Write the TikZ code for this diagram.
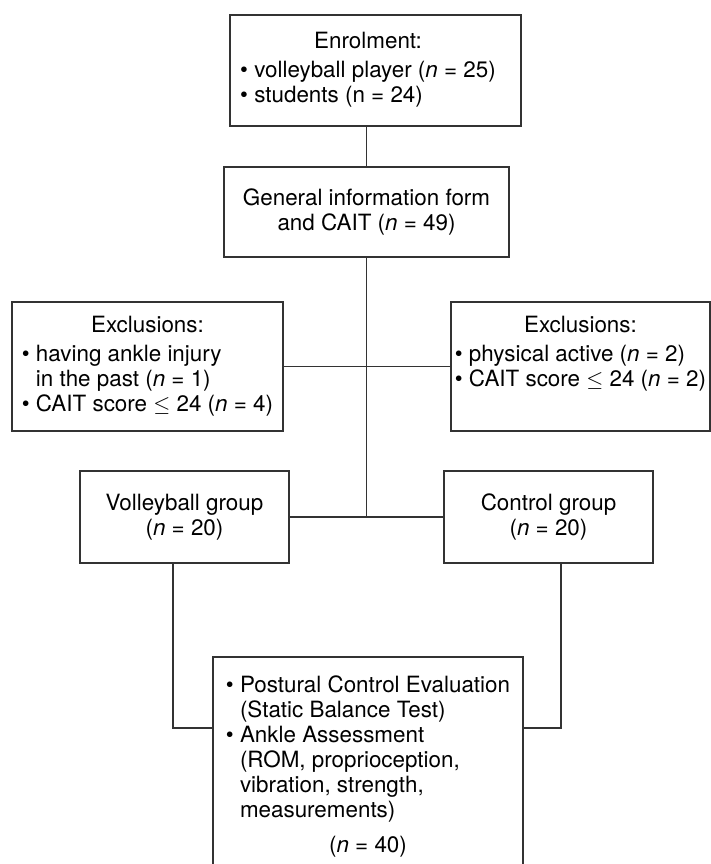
\documentclass[tikz,border=0pt]{standalone}
\usepackage{fontspec}
\setmainfont{TeX Gyre Heros}

\tikzset{
  box/.style={draw=black!80, line width=0.8pt, inner sep=0pt, align=center},
  boxsize/.style 2 args={minimum width=#1*0.5pt, minimum height=#2*0.5pt},
  link/.style={draw=black!80, line width=0.8pt},
}
\newcommand{\nn}{\textit{n}}

\begin{document}
\begin{tikzpicture}[x=0.5pt, y=-0.5pt, font=\fontsize{11.2}{12.5}\selectfont]
        % Page frame
        \clip (0,0) rectangle (711,864);

        % Enrolment and screening
        \node[box, boxsize={291}{111}] (enrol) at (375.5,70.5) {\hspace*{-7.5pt}\begin{tabular}{@{}l@{~}l@{}}
            \multicolumn{2}{@{}c@{}}{Enrolment:}\\[2pt]
            \textbullet & volleyball player (\nn{} = 25)\\
            \textbullet & students (n = 24)
          \end{tabular}};
        \node[box, boxsize={285}{90}] (general) at (366.5,212) {General information form\\and CAIT (\nn{} = 49)};

        % Exclusions on both sides
        \node[box, boxsize={271}{129}] (exclL) at (147.5,366.5) {\begin{tabular}{@{}l@{~}l@{}}
            \multicolumn{2}{@{}c@{}}{Exclusions:}\\[2pt]
            \textbullet & having ankle injury\\
                        & in the past (\nn{} = 1)\\
            \textbullet & CAIT score $\leq$ 24 (\nn{} = 4)
          \end{tabular}};
        \node[box, boxsize={259}{129}] (exclR) at (580.5,366.5) {\begin{tabular}{@{}l@{~}l@{}}
            \multicolumn{2}{@{}c@{}}{Exclusions:}\\[2pt]
            \textbullet & physical active (\nn{} = 2)\\
            \textbullet & CAIT score $\leq$ 24 (\nn{} = 2)\\
            & \\
          \end{tabular}};

        % Groups
        \node[box, boxsize={209}{92}] (volley) at (184.5,517) {Volleyball group\\(\nn{} = 20)};
        \node[box, boxsize={209}{92}] (control) at (548.5,517) {Control group\\(\nn{} = 20)};

        % Assessment
        \node[box, boxsize={310}{220}] (assess) at (368,767) {\begin{tabular}{@{}l@{~}l@{}}
            \textbullet & Postural Control Evaluation\\
                        & (Static Balance Test)\\
            \textbullet & Ankle Assessment\\
                        & (ROM, proprioception,\\
                        & vibration, strength,\\
                        & measurements)\\[5pt]
            \multicolumn{2}{@{}c@{}}{(\nn{} = 40)}
          \end{tabular}};

        % Connectors
        \draw[link] (general.north |- enrol.south) -- (general.north);
        \coordinate (split) at (general.south |- volley.east);
        \draw[link] (general.south) -- (split);
        \draw[link] (exclL.east) -- (exclL.east -| split);
        \draw[link] (exclR.west) -- (exclR.west -| split);
        \draw[link] (volley.east) -- (control.west);

        \coordinate (elbowL) at (173,728);
        \coordinate (elbowR) at (561,728);
        \draw[link] (volley.south -| elbowL) -- (elbowL) -- (elbowL -| assess.west);
        \draw[link] (control.south -| elbowR) -- (elbowR) -- (elbowR -| assess.east);
    \end{tikzpicture}
\end{document}
